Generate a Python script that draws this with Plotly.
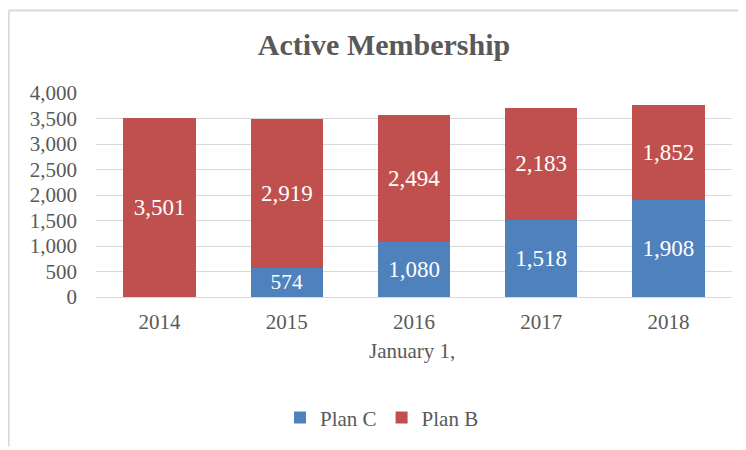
import plotly.graph_objects as go

years = ["2014", "2015", "2016", "2017", "2018"]
plan_c = [0, 574, 1080, 1518, 1908]
plan_b = [3501, 2919, 2494, 2183, 1852]

FONT = "Liberation Serif, Times New Roman, serif"
GREY = "#595959"

def labels(vals):
    return [f"{v:,}" if v > 0 else "" for v in vals]

fig = go.Figure()
fig.add_trace(go.Bar(
    name="Plan C", x=years, y=plan_c, marker=dict(color="#4F81BD", line=dict(width=0)),
    text=labels(plan_c), textposition="inside", insidetextanchor="middle",
    textfont=dict(color="white", size=23, family=FONT),
))
fig.add_trace(go.Bar(
    name="Plan B", x=years, y=plan_b, marker=dict(color="#C0504D", line=dict(width=0)),
    text=labels(plan_b), textposition="inside", insidetextanchor="middle",
    textfont=dict(color="white", size=23, family=FONT),
))

# page offset (body margin) of 8px
OFF = 8
W, H = 746 - OFF, 450 - OFF
PL, PR, PT, PB = 96, 732, 92.5, 300  # plot area in page pixels
L = PL - OFF
R = (W + OFF) - PR
T = PT - OFF
B = (H + OFF) - PB
pw = PR - PL
ph = PB - PT

def px(x):
    return (x - PL) / pw

def py(y):
    return (PB - y) / ph

fig.update_layout(
    width=W, height=H,
    barmode="stack", bargap=0.43,
    margin=dict(l=L, r=R, t=T, b=B),
    paper_bgcolor="white", plot_bgcolor="white",
    font=dict(family=FONT, color=GREY, size=21),
    title=dict(text="<b>Active Membership</b>", xref="paper", x=px(384), xanchor="center",
               y=1 - (44 - OFF) / H, yanchor="middle",
               font=dict(size=30, family=FONT, color=GREY)),
    showlegend=True,
    legend=dict(orientation="h", x=px(382), xanchor="center", y=py(423), yanchor="middle",
                font=dict(size=21, family=FONT, color=GREY), traceorder="normal",
                itemwidth=30),
    uniformtext=dict(mode=False),
)
fig.update_yaxes(range=[0, 4000], dtick=500, tickformat=",", showgrid=True,
                 gridcolor="#D9D9D9", gridwidth=1, zeroline=False, showline=False,
                 ticks="", ticklabelstandoff=18,
                 tickfont=dict(size=21, family=FONT, color=GREY))
fig.update_xaxes(showline=True, linecolor="#D9D9D9", linewidth=1, ticks="",
                 ticklabelstandoff=6,
                 tickfont=dict(size=21, family=FONT, color=GREY))

fig.add_annotation(text="January 1,", xref="paper", yref="paper", x=px(412), y=py(355),
                   xanchor="center", yanchor="middle", showarrow=False,
                   font=dict(size=21, family=FONT, color=GREY))

# frame edges (top and left only visible in the reference crop)
edge = dict(color="#D9D9D9", width=2)
fig.add_shape(type="line", xref="paper", yref="paper",
              x0=px(8.5), x1=px(746), y0=py(8.6), y1=py(8.6), line=edge, layer="below")
fig.add_shape(type="line", xref="paper", yref="paper",
              x0=px(8.6), x1=px(8.6), y0=py(8.5), y1=py(452), line=edge, layer="below")

fig.write_html("out.html")
